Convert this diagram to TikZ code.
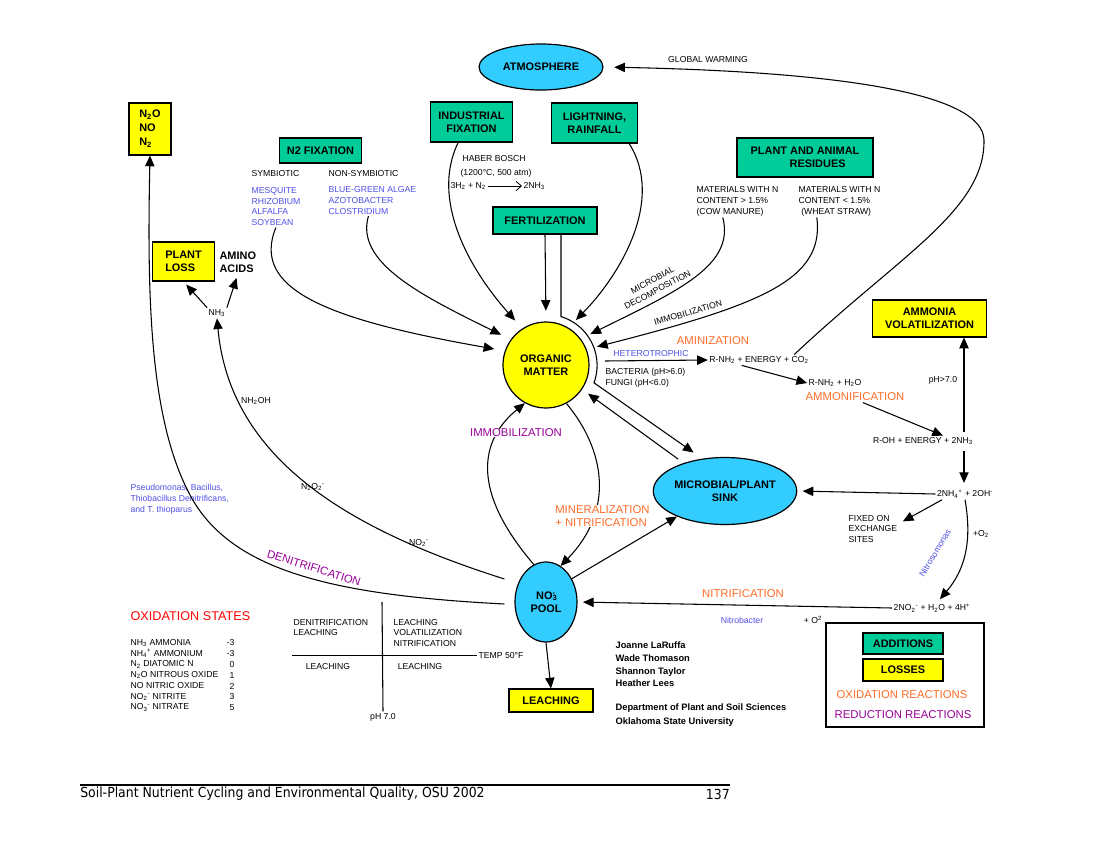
\documentclass[tikz,border=0pt]{standalone}
\usepackage{fontspec}
\setmainfont{Liberation Sans}
\newfontfamily\footfont{DejaVu Sans Condensed}
\usetikzlibrary{arrows.meta,shapes.geometric}
\definecolor{addgreen}{RGB}{0,204,153}
\definecolor{lossyellow}{RGB}{255,255,0}
\definecolor{poolcyan}{RGB}{51,204,255}
\definecolor{oxorange}{RGB}{255,110,40}
\definecolor{redpurple}{RGB}{153,0,153}
\definecolor{orgblue}{RGB}{80,80,230}
\newcommand{\nsub}[1]{\textsubscript{#1}}
\newcommand{\nsup}[1]{\textsuperscript{#1}}
\begin{document}
\begin{tikzpicture}[x=0.75pt,y=-0.75pt,
  every node/.style={inner sep=1pt},
  note/.style={font=\fontsize{6.5}{8.2}\selectfont,align=left},
  boxtext/.style={font=\fontsize{8.2}{10}\selectfont\bfseries,align=center},
  addbox/.style={boxtext,draw,line width=0.9pt,fill=addgreen,inner sep=0pt},
  lossbox/.style={boxtext,draw,line width=0.9pt,fill=lossyellow,inner sep=0pt},
  pool/.style={boxtext,draw,line width=0.9pt,ellipse,fill=poolcyan,inner sep=0pt},
  proc/.style={font=\fontsize{8.5}{10}\selectfont},
  flow/.style={line width=0.8pt,-{Triangle[length=8pt,width=7pt]}},
  toom/.style={flow,shorten >=8pt}]
\fill[white] (0,0) rectangle (1100,850);
\useasboundingbox (0,0) rectangle (1100,850);

% pools and sources
\node[pool,minimum width=93pt,minimum height=34.5pt] (atm) at (541,67) {ATMOSPHERE};
\node[lossbox,minimum width=31.5pt,minimum height=39pt,align=left,font=\fontsize{8.2}{10.5}\selectfont\bfseries] (gas) at (150,129) {N\nsub{2}O\\NO\\N\nsub{2}};
\node[addbox,minimum width=62pt,minimum height=18.75pt] (nfix) at (320.5,150.5) {N2 FIXATION};
\node[addbox,minimum width=62pt,minimum height=30pt] (ind) at (471.5,122) {INDUSTRIAL\\FIXATION};
\node[addbox,minimum width=65pt,minimum height=30pt] (light) at (594.5,123) {LIGHTNING,\\RAINFALL};
\node[addbox,minimum width=78pt,minimum height=20.25pt] (fert) at (545,220.5) {FERTILIZATION};
\node[addbox,minimum width=102pt,minimum height=29.25pt] (res) at (805,157.5) {PLANT AND ANIMAL\\\hspace*{19pt}RESIDUES};
\node[lossbox,minimum width=47pt,minimum height=29.25pt,align=left] (ploss) at (183.5,261.5) {PLANT\\LOSS};
\node[boxtext,align=left,anchor=west] (amino) at (218,262) {AMINO\\ACIDS};
\node[lossbox,minimum width=86pt,minimum height=27.75pt] (ammvol) at (929.5,318.5) {AMMONIA\\VOLATILIZATION};
\node[boxtext,circle,draw,line width=0.9pt,fill=lossyellow,minimum size=64.5pt,inner sep=0pt] (om) at (546,365) {ORGANIC\\MATTER};
\node[pool,minimum width=100.5pt,minimum height=50.25pt] (sink) at (725,491) {MICROBIAL/PLANT\\SINK};
\node[pool,minimum width=46.5pt,minimum height=60pt] (no3) at (546,602) {NO\rlap{\nsub{3}}\nsup{-}\\POOL};
\node[lossbox,minimum width=63pt,minimum height=17.25pt] (leach) at (551,700.5) {LEACHING};

% notes
\node[note,anchor=west] (sym) at (250,174) {SYMBIOTIC};
\node[note,anchor=west] (nsym) at (327,174) {NON-SYMBIOTIC};
\node[note,anchor=west,text=orgblue] (symlist) at (250,206.5) {MESQUITE\\RHIZOBIUM\\ALFALFA\\SOYBEAN};
\node[note,anchor=west,text=orgblue] (nsymlist) at (327,200.5) {BLUE-GREEN ALGAE\\AZOTOBACTER\\CLOSTRIDIUM};
\node[note,anchor=west] (haber) at (461,159) {HABER BOSCH};
\node[note,anchor=west] (hcond) at (459,173) {(1200°C, 500 atm)};
\node[note,anchor=west] (hbl) at (449,186) {3H\nsub{2} + N\nsub{2}};
\node[note,anchor=west] (hbr) at (522,186) {2NH\nsub{3}};
\node[note,anchor=west] (matA) at (695,201) {MATERIALS WITH N\\CONTENT > 1.5\%\\(COW MANURE)};
\node[note,anchor=west] (matB) at (797,201) {MATERIALS WITH N\\CONTENT < 1.5\%\\\hspace*{2pt}(WHEAT STRAW)};
\node[note,align=center,rotate=28] (mdec) at (655,285) {MICROBIAL\\DECOMPOSITION};
\node[note,rotate=16] (imm1) at (688,313) {IMMOBILIZATION};
\node[proc,text=oxorange] (amz) at (713,341) {AMINIZATION};
\node[note,text=orgblue] (het) at (651,354) {HETEROTROPHIC};
\node[note,anchor=west] (bact) at (604,378) {BACTERIA (pH>6.0)\\FUNGI (pH<6.0)};
\node[note] (rnh2a) at (759,360) {R-NH\nsub{2} + ENERGY + CO\nsub{2}};
\node[note] (rnh2b) at (835,383) {R-NH\nsub{2} + H\nsub{2}O};
\node[proc,text=oxorange] (amf) at (855,397) {AMMONIFICATION};
\node[note] (roh) at (923,441) {R-OH + ENERGY + 2NH\nsub{3}};
\node[note] (ph7) at (943,380) {pH>7.0};
\node[note] (nh4) at (965,494) {2NH\nsub{4}\nsup{+} + 2OH\nsup{-}};
\node[note,anchor=west] (fixed) at (847,529) {FIXED ON\\EXCHANGE\\SITES};
\node[note] (o2a) at (981,534) {+O\nsub{2}};
\node[note,rotate=59,text=orgblue] (nsomo) at (935,553) {Nitrosomonas};
\node[note] (no2) at (932,608) {2NO\nsub{2}\nsup{-} + H\nsub{2}O + 4H\nsup{+}};
\node[proc,text=oxorange] (nitr) at (743,594) {NITRIFICATION};
\node[note,text=orgblue] (nbac) at (742,620) {Nitrobacter};
\node[note] (o2b) at (813,620) {+ O\nsup{2}};
\node[note] (gw) at (708,60) {GLOBAL WARMING};
\node[note] (nh3) at (217,313) {NH\nsub{3}};
\node[note] (nh2oh) at (256,401) {NH\nsub{2}OH};
\node[note] (n2o2) at (313,487) {N\nsub{2}O\nsub{2}\nsup{-}};
\node[note] (no2l) at (419,543) {NO\nsub{2}\nsup{-}};
\node[note,anchor=west,text=orgblue] (pseudo) at (129,499) {Pseudomonas, Bacillus,\\Thiobacillus Denitrificans,\\and T. thioparus};
\node[proc,text=redpurple,rotate=-17.5] (denit) at (314,568) {DENITRIFICATION};

% fluxes into organic matter
\draw[toom] (symlist.south) .. controls (250,290) and (330,320) .. (om.161);
\draw[toom] ([xshift=-3pt]nsymlist.south) .. controls (355,262) and (420,295) .. (om.144);
\draw[toom] ([xshift=-10pt]ind.south) .. controls (430,200) and (470,270) .. (om.123);
\draw[toom] (fert.south) -- (om.north);
\draw[toom] ([xshift=26pt]light.south) .. controls (665,200) and (620,275) .. (om.59);
\draw[toom] ([xshift=-11pt]matA.south) .. controls (735,265) and (680,290) .. (om.37);
\draw[toom] ([xshift=-17pt]matB.south) .. controls (825,280) and (760,305) .. (om.21);
\draw[flow,shorten >=8pt] ([xshift=12pt]fert.south) -- ++(0,82) arc[start angle=-73,end angle=20,radius=51] -- (sink.125);
\draw[flow,shorten <=5pt,shorten >=5.5pt] (sink.146) -- (om.-34);
\draw[-{Straight Barb[length=4pt,width=7pt]},line width=0.6pt] (hbl) -- (hbr);

% organic matter and nitrate
\draw[flow] (om.-62) .. controls (605,450) and (615,510) .. (no3.68);
\draw[flow] (no3.108) .. controls (470,490) and (480,440) .. (om.-119);
\node[proc,text=redpurple,fill=white,inner sep=0pt] (imm2) at (516,433) {IMMOBILIZATION};
\node[proc,text=oxorange,anchor=west,align=left,fill=white,inner sep=0pt] (minr) at (555,516) {MINERALIZATION\\+ NITRIFICATION};
\draw[flow] (no3.42) -- (sink.208);
\draw[flow] (no3.south) -- (leach.north);
\draw[flow] ([shift={(-10,2)}]no3.west) .. controls (330,595) and (230,570) .. (190,495) .. controls (150,420) and (147,300) .. (gas.south);
\draw[flow] ([shift={(-10,-23)}]no3.west) .. controls (350,530) and (230,460) .. (nh3.south);
\draw[flow,shorten >=3pt] (nh3.north west) -- (ploss.south);
\draw[flow,shorten >=3pt] (nh3.north east) -- (amino.south);

% mineralization chain
\coordinate (h0) at (605,361);
\coordinate (vx) at (964,432);
\coordinate (vy) at (964,451);
\draw[flow] (h0) -- (rnh2a.west);
\draw[flow] ([xshift=-13pt]rnh2a.south) -- (rnh2b.west);
\draw[flow] ([xshift=6pt]amf.south) -- ([xshift=15pt]roh.north);
\draw[flow] (vx) -- (vx |- ammvol.south);
\draw[flow,shorten >=4pt] (vy) -- (vy |- nh4.north);
\draw[flow,shorten >=4pt] (nh4.west) -- (sink.east);
\draw[flow] ([xshift=5pt]nh4.south west) -- ([shift={(4,8)}]fixed.north east);
\draw[flow,shorten >=3pt] (nh4.south) .. controls (973,545) and (963,572) .. ([xshift=4pt]no2.north);
\draw[flow,shorten >=4pt] (no2.west) -- (no3.east);
\draw[flow,shorten >=8pt] ([xshift=-12pt]rnh2a.north east) .. controls (900,255) and (985,210) .. (984,140) .. controls (983,95) and (850,72) .. (atm.east);

% temperature / pH quadrant
\node[note,anchor=west] (q1) at (292,627.5) {DENITRIFICATION\\LEACHING};
\node[note,anchor=west] (q2) at (392,633) {LEACHING\\VOLATILIZATION\\NITRIFICATION};
\node[note] (q3) at (328,667) {LEACHING};
\node[note] (q4) at (420,667) {LEACHING};
\node[note,anchor=west] (temp) at (477,655.5) {TEMP 50°F};
\node[note] (ph) at (383,717) {pH 7.0};
\draw[line width=0.8pt] (382,602) -- (ph.north);
\draw[line width=0.8pt] (292,655.5) -- (temp.west);

% oxidation states
\node[font=\fontsize{9.5}{11}\selectfont,text=red,anchor=west] (oxs) at (129,616) {OXIDATION STATES};
\foreach \nm/\val [count=\i] in {NH\nsub{3} AMMONIA/-3, NH\nsub{4}\nsup{+} AMMONIUM/-3, N\nsub{2} DIATOMIC N/0, N\nsub{2}O NITROUS OXIDE/1, NO NITRIC OXIDE/2, NO\nsub{2}\nsup{-} NITRITE/3, NO\nsub{3}\nsup{-} NITRATE/5}{
  \node[note,anchor=west] (ox\i) at (129,{632+10.8*\i}) {\nm};
  \node[note,anchor=east] (ov\i) at (236,{632+10.8*\i}) {\val};
}

% authors
\node[anchor=west,align=left,font=\fontsize{7}{9.5}\selectfont\bfseries] (auth) at (614,664.5) {Joanne LaRuffa\\Wade Thomason\\Shannon Taylor\\Heather Lees};
\node[anchor=west,align=left,font=\fontsize{7}{10.5}\selectfont\bfseries] (dept) at (614,715) {Department of Plant and Soil Sciences\\Oklahoma State University};

% key
\node[draw,line width=0.9pt,minimum width=118.5pt,minimum height=78pt] (key) at (905,675) {};
\node[addbox,minimum width=60pt,minimum height=15.75pt] (kadd) at (903,643.5) {ADDITIONS};
\node[lossbox,minimum width=60pt,minimum height=16.5pt] (kloss) at (903,670) {LOSSES};
\node[proc,text=oxorange] (kox) at (902,695) {OXIDATION REACTIONS};
\node[proc,text=redpurple] (kred) at (903,715) {REDUCTION REACTIONS};

% footer
\node[font=\footfont\fontsize{10.4}{12}\selectfont,anchor=west,inner sep=0pt] (foot) at (80,794) {Soil-Plant Nutrient Cycling and Environmental Quality, OSU 2002};
\node[font=\footfont\fontsize{10.4}{12}\selectfont,anchor=east,inner sep=0pt] (page) at (730,794) {137};
\draw[line width=0.8pt] (80,785) -- (730,785);
\end{tikzpicture}
\end{document}
